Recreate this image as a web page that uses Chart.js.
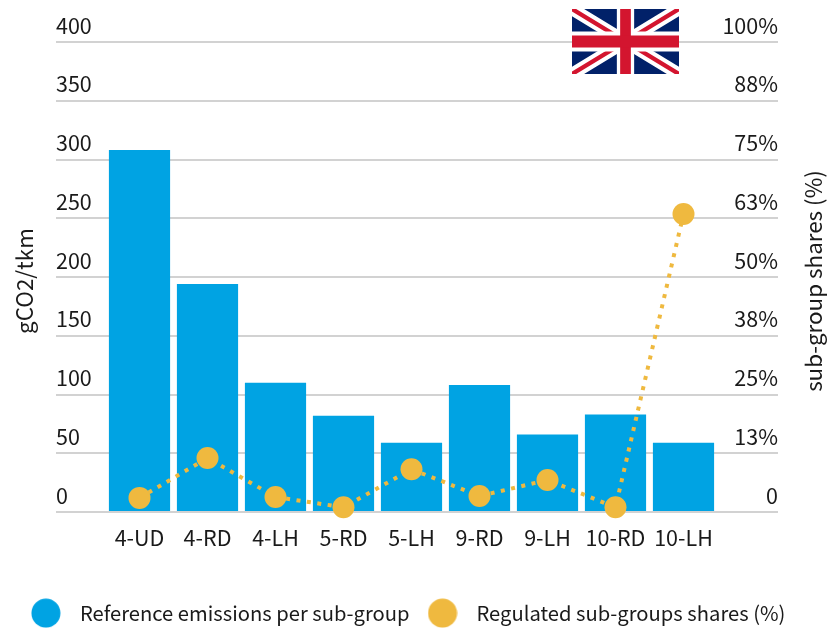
<!DOCTYPE html>
<html>
<head>
<meta charset="utf-8">
<style>
  html, body { margin: 0; padding: 0; background: #fff; }
  #wrap { position: relative; width: 828px; height: 630px; }
  #flag { position: absolute; left: 572px; top: 9px; width: 107px; height: 65px; }
</style>
<script src="https://cdn.jsdelivr.net/npm/chart.js@4"></script>
</head>
<body>
<div id="wrap">
  <canvas id="emissions" width="828" height="630"></canvas>
  <svg id="flag" viewBox="0 0 60 36" preserveAspectRatio="none">
    <rect width="60" height="36" fill="#012169"/>
    <path d="M0 0L60 36M60 0L0 36" stroke="#fff" stroke-width="7"/>
    <path d="M0 0L60 36M60 0L0 36" stroke="#d3152f" stroke-width="2.4"/>
    <path d="M30 0V36" stroke="#fff" stroke-width="9.7"/>
    <path d="M0 18H60" stroke="#fff" stroke-width="11"/>
    <path d="M30 0V36" stroke="#d3152f" stroke-width="6"/>
    <path d="M0 18H60" stroke="#d3152f" stroke-width="6.6"/>
  </svg>
</div>
<script>
const categories = ["4-UD", "4-RD", "4-LH", "5-RD", "5-LH", "9-RD", "9-LH", "10-RD", "10-LH"];
const referenceEmissions = [308, 194, 110, 82, 59, 108, 66, 83, 59];
const regulatedShares = [3, 11.5, 3.2, 1, 9.1, 3.4, 6.8, 1, 63.4];
const shareTickLabels = ["0", "13%", "25%", "38%", "50%", "63%", "75%", "88%", "100%"];

const blue = "#00a3e3";
const yellow = "#efb93f";
const gridColor = "#d2d2d2";
const textColor = "#1a1a1a";
const fontFamily = "'Noto Sans CJK SC', 'Noto Sans', sans-serif";
const fontSize = 21.5;
const titleSize = 22.4;
const legendSize = 20.2;

Chart.defaults.font.family = fontFamily;
Chart.defaults.font.size = fontSize;
Chart.defaults.color = textColor;

//round legend marker, drawn apart so pointStyleWidth only sets the gap
function legendDot(color){
    const c = document.createElement("canvas");
    c.width = 30;
    c.height = 30;
    const g = c.getContext("2d");
    g.fillStyle = color;
    g.beginPath();
    g.arc(15, 15, 14.5, 0, Math.PI * 2);
    g.fill();
    return c;
}

//rotated axis titles and legend placement
const layoutExtras = {
    id: "layoutExtras",
    afterLayout(chart){
        const legend = chart.legend;
        legend.maxWidth = 900;
        legend.fit();
        legend.left = 13;
        legend.right = 900;
        legend.top = 594;
    },
    afterDraw(chart){
        const g = chart.ctx;
        g.save();
        g.font = titleSize + "px " + fontFamily;
        g.fillStyle = textColor;
        g.textAlign = "center";
        g.textBaseline = "middle";
        [["gCO2/tkm", 24, 281], ["sub-group shares (%)", 813, 281]].forEach(t => {
            g.save();
            g.translate(t[1], t[2]);
            g.rotate(-Math.PI / 2);
            g.fillText(t[0], 0, 0);
            g.restore();
        });
        g.restore();
    }
};

const chart = new Chart(document.getElementById("emissions"), {
    type: "bar",
    data: {
        labels: categories,
        datasets: [
            {
                label: "Reference emissions per sub-group",
                data: referenceEmissions,
                backgroundColor: blue,
                barPercentage: 0.9,
                categoryPercentage: 1,
                yAxisID: "y",
                order: 1
            },
            {
                type: "line",
                label: "Regulated sub-groups shares (%)",
                data: regulatedShares,
                borderColor: yellow,
                backgroundColor: yellow,
                borderWidth: 4,
                borderDash: [4, 6.5],
                pointRadius: 11,
                pointHoverRadius: 11,
                pointBorderWidth: 0,
                tension: 0,
                clip: false,
                yAxisID: "y1",
                order: 0
            }
        ]
    },
    plugins: [layoutExtras],
    options: {
        responsive: false,
        animation: false,
        layout: { padding: { left: 56, right: 50, top: 42, bottom: 0 } },
        plugins: {
            tooltip: { enabled: false },
            legend: {
                position: "bottom",
                align: "start",
                labels: {
                    font: { size: legendSize },
                    usePointStyle: true,
                    pointStyleWidth: 47.8,
                    padding: 9,
                    sort: (a, b) => a.datasetIndex - b.datasetIndex,
                    generateLabels(c){
                        const items = Chart.defaults.plugins.legend.labels.generateLabels(c);
                        items.forEach(i => { i.pointStyle = legendDot(i.datasetIndex === 0 ? blue : yellow); });
                        return items;
                    }
                }
            }
        },
        scales: {
            x: {
                grid: { display: false },
                border: { display: false },
                ticks: { padding: 5, maxRotation: 0, autoSkip: false },
                afterFit(scale){ scale.height = 118 - scale.chart.legend.height; }
            },
            y: {
                position: "left",
                min: 0,
                max: 400,
                border: { display: false },
                grid: { color: gridColor, lineWidth: 2, tickLength: 49.5, tickColor: gridColor },
                ticks: { stepSize: 50, crossAlign: "far", labelOffset: -16.5, padding: 0 },
                afterFit(scale){ scale.width = 49.5; }
            },
            y1: {
                position: "right",
                min: 0,
                max: 100,
                border: { display: false },
                grid: { color: gridColor, lineWidth: 2, tickLength: 60.5, tickColor: gridColor },
                ticks: {
                    stepSize: 12.5,
                    crossAlign: "far",
                    labelOffset: -16.5,
                    padding: 0,
                    callback: (value, index) => shareTickLabels[index]
                },
                afterFit(scale){ scale.width = 60.5; }
            }
        }
    }
});
</script>
</body>
</html>
